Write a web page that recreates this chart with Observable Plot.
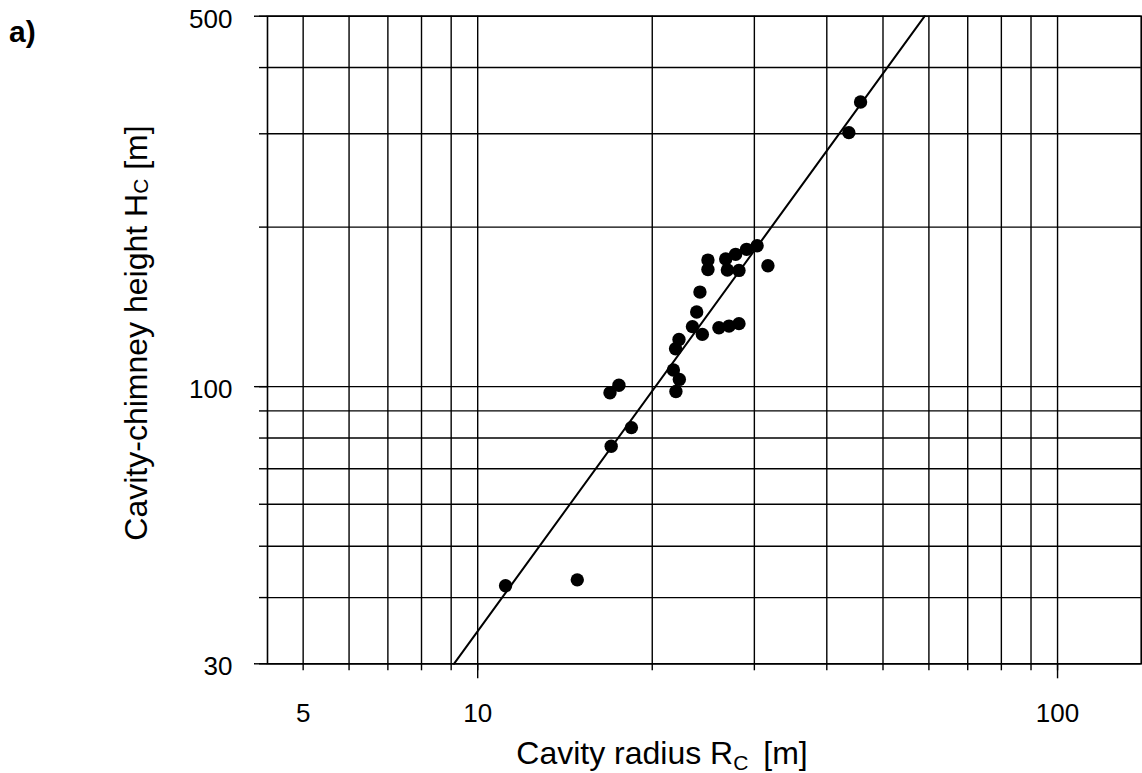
<!DOCTYPE html>
<html>
<head>
<meta charset="utf-8">
<script src="https://cdn.jsdelivr.net/npm/d3@7"></script>
<script src="https://cdn.jsdelivr.net/npm/@observablehq/plot@0.6"></script>
<style>
  html, body { margin: 0; padding: 0; background: #fff; }
  #chart { width: 1142px; height: 773px; }
</style>
</head>
<body>
<div id="chart"></div>
<script>
// Cavity radius R_C [m] of each shot
const radius = [11.17, 14.85, 16.99, 18.41, 16.91, 17.52, 21.75, 22.27, 21.97, 21.94,
                22.24, 23.46, 24.40, 26.06, 27.13, 28.22, 23.86, 24.17, 24.95, 24.95,
                26.77, 26.95, 28.22, 27.85, 29.09, 30.33, 31.66, 43.66, 45.74];
// Cavity-chimney height H_C [m] of each shot
const chimneyHeight = [42.1, 43.2, 77.2, 83.7, 97.4, 100.6, 107.5, 103.2, 97.9, 117.9,
                       122.8, 129.8, 125.5, 129.2, 130.1, 131.5, 138.3, 150.8, 173.3, 166.4,
                       174.1, 166.0, 165.7, 177.7, 181.6, 184.4, 169.1, 301.5, 344.4];
// Fitted power-law line (end points)
const fitRadius = [9.1, 59.0];
const fitHeight = [30, 500];
// Grid and tick values
const xGrid = [5, 6, 7, 8, 9, 10, 20, 30, 40, 50, 60, 70, 80, 90, 100];
const xMajor = [10, 100];
const xLabels = [5, 10, 100];
const yGrid = [30, 40, 50, 60, 70, 80, 90, 100, 200, 300, 400, 500];
const yLabels = [30, 100, 500];

const points = radius.map((r, i) => ({radius: r, height: chimneyHeight[i]}));
const fit = fitRadius.map((r, i) => ({radius: r, height: fitHeight[i]}));

const font = "'Liberation Sans', Arial, Helvetica, sans-serif";
const blank = () => "";

const svg = Plot.plot({
  width: 1142,
  height: 773,
  marginLeft: 267,
  marginRight: 1.3,
  marginTop: 15.7,
  marginBottom: 109.7,
  x: {type: "log", domain: [4.34, 139.4]},
  y: {type: "log", domain: [30, 500]},
  style: {fontFamily: font, background: "#fff", color: "#000"},
  marks: [
    Plot.ruleX(xGrid, {stroke: "#000", strokeWidth: 1.4}),
    Plot.ruleY(yGrid, {stroke: "#000", strokeWidth: 1.4}),
    Plot.frame({stroke: "#000", strokeWidth: 1.6}),
    Plot.axisX(xGrid, {tickSize: 7, tickFormat: blank, label: null, strokeWidth: 1.4}),
    Plot.axisX(xMajor, {tickSize: 15, tickFormat: blank, label: null, strokeWidth: 1.4}),
    Plot.axisX(xLabels, {tickSize: 0, tickPadding: 40, fontSize: 26, tickFormat: d => String(d), label: null}),
    Plot.axisY(yGrid, {tickSize: 8, tickFormat: blank, label: null, strokeWidth: 1.4}),
    Plot.axisY(yLabels, {tickSize: 13, tickFormat: blank, label: null, strokeWidth: 1.4}),
    Plot.axisY(yLabels, {tickSize: 0, tickPadding: 35, fontSize: 26, dy: 3, tickFormat: d => String(d), label: null}),
    Plot.line(fit, {x: "radius", y: "height", stroke: "#000", strokeWidth: 2}),
    Plot.dot(points, {x: "radius", y: "height", r: 6.7, fill: "#000", stroke: "none"})
  ]
});

const s = d3.select(svg);
// x axis title
const xt = s.append("text")
  .attr("x", 662).attr("y", 764)
  .attr("text-anchor", "middle")
  .attr("font-family", font).attr("font-size", 32).attr("fill", "#000");
xt.append("tspan").text("Cavity radius R");
xt.append("tspan").attr("font-size", 21).attr("dy", 6).text("C");
xt.append("tspan").attr("dy", -6).attr("dx", 6).text(" [m]");

// y axis title
const yt = s.append("text")
  .attr("transform", "translate(147,333) rotate(-90)")
  .attr("text-anchor", "middle")
  .attr("font-family", font).attr("font-size", 32).attr("fill", "#000");
yt.append("tspan").text("Cavity-chimney height H");
yt.append("tspan").attr("font-size", 21).attr("dy", 1).text("C");
yt.append("tspan").attr("dy", -1).text(" [m]");

// panel letter
s.append("text")
  .attr("x", 9).attr("y", 42)
  .attr("text-anchor", "start")
  .attr("font-family", font).attr("font-size", 30).attr("font-weight", "bold")
  .attr("fill", "#000").text("a)");

document.getElementById("chart").appendChild(svg);
</script>
</body>
</html>
